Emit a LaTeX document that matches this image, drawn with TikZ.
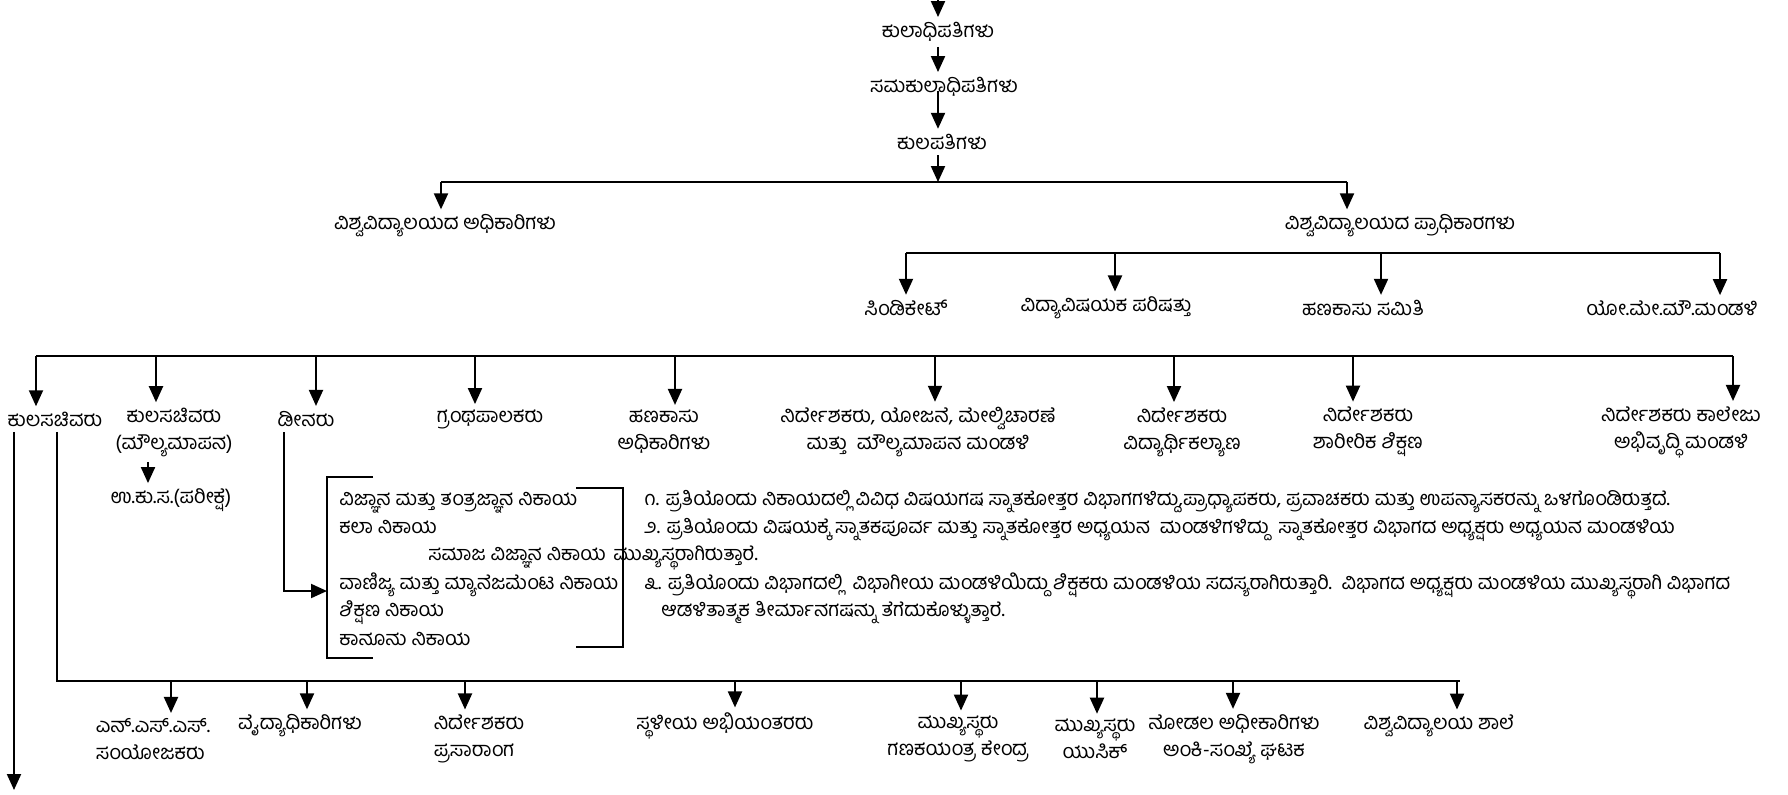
\documentclass[tikz,border=0pt]{standalone}
\usepackage{fontspec}
\newfontfamily\kn[Script=Kannada]{Hind Mysuru}
\usetikzlibrary{arrows.meta}
\begin{document}
\begin{tikzpicture}[x=0.5pt,y=-0.5pt,
  lbl/.style={font=\kn\fontsize{10.1}{13.5}\selectfont, inner sep=2.5pt, align=center},
  txt/.style={font=\kn\fontsize{10}{13.5}\selectfont, inner sep=0pt, anchor=base west},
  arr/.style={line width=1pt,-{Triangle[width=7pt,length=8pt]}},
  ln/.style={line width=1pt}]
\useasboundingbox[fill=white] (0,0) rectangle (1788,794);

% ---- top chain
\node[lbl] (n1) at (938,32) {ಕುಲಾಧಿಪತಿಗಳು};
\node[lbl] (n2) at (944,87) {ಸಮಕುಲಾಧಿಪತಿಗಳು};
\node[lbl] (n3) at (942,142) {ಕುಲಪತಿಗಳು};
\coordinate (top) at (938,0);
\coordinate (j1) at (938,182);
\draw[arr] (top) -- (top |- n1.north);
\draw[arr] (top |- n1.south) -- (top |- n2.north);
\draw[arr] ([yshift=-2pt]top |- n2.center) -- (top |- n3.north);
\draw[arr] (top |- n3.south) -- (j1);

% ---- level 2
\coordinate (bar1L) at (441,182);
\coordinate (bar1R) at (1347,182);
\draw[ln] (bar1L) -- (bar1R);
\node[lbl] (n4) at (445,226) {ವಿಶ್ವವಿದ್ಯಾಲಯದ ಅಧಿಕಾರಿಗಳು};
\node[lbl] (n5) at (1400,226) {ವಿಶ್ವವಿದ್ಯಾಲಯದ ಪ್ರಾಧಿಕಾರಗಳು};
\draw[arr] (bar1L) -- (bar1L |- n4.north);
\draw[arr] (bar1R) -- (bar1R |- n5.north);

% ---- authorities
\coordinate (bar2a) at (906,253);
\coordinate (bar2b) at (1115,253);
\coordinate (bar2c) at (1381,253);
\coordinate (bar2d) at (1720,253);
\draw[ln] (bar2a) -- (bar2d);
\node[lbl] (n6) at (906,308) {ಸಿಂಡಿಕೇಟ್};
\node[lbl] (n7) at (1106,308) {ವಿದ್ಯಾವಿಷಯಕ ಪರಿಷತ್ತು};
\node[lbl] (n8) at (1363,308) {ಹಣಕಾಸು ಸಮಿತಿ};
\node[lbl] (n9) at (1672,308) {ಯೋ.ಮೇ.ಮೌ.ಮಂಡಳಿ};
\draw[arr] (bar2a) -- (bar2a |- n6.north);
\draw[arr] (bar2b) -- (bar2b |- n7.north);
\draw[arr] (bar2c) -- (bar2c |- n8.north);
\draw[arr] (bar2d) -- (bar2d |- n9.north);

% ---- officers
\coordinate (o1) at (36,356);
\coordinate (o2) at (156,356);
\coordinate (o3) at (316,356);
\coordinate (o4) at (475,356);
\coordinate (o5) at (675,356);
\coordinate (o6) at (935,356);
\coordinate (o7) at (1174,356);
\coordinate (o8) at (1353,356);
\coordinate (o9) at (1733,356);
\draw[ln] (o1) -- (o9);
\node[lbl] (r1) at (55,419) {ಕುಲಸಚಿವರು};
\node[lbl] (r2) at (174,432) {ಕುಲಸಚಿವರು\\(ಮೌಲ್ಯಮಾಪನ)};
\node[lbl] (r3) at (306,419) {ಡೀನರು};
\node[lbl] (r4) at (490,419) {ಗ್ರಂಥಪಾಲಕರು};
\node[lbl] (r5) at (664,432) {ಹಣಕಾಸು\\ಅಧಿಕಾರಿಗಳು};
\node[lbl] (r6) at (918,432) {ನಿರ್ದೇಶಕರು, ಯೋಜನೆ, ಮೇಲ್ವಿಚಾರಣೆ\\ಮತ್ತು\ \ ಮೌಲ್ಯಮಾಪನ ಮಂಡಳಿ};
\node[lbl] (r7) at (1182,432) {ನಿರ್ದೇಶಕರು\\ವಿದ್ಯಾರ್ಥಿಕಲ್ಯಾಣ};
\node[lbl] (r8) at (1368,432) {ನಿರ್ದೇಶಕರು\\ಶಾರೀರಿಕ ಶಿಕ್ಷಣ};
\node[lbl] (r9) at (1681,432) {ನಿರ್ದೇಶಕರು ಕಾಲೇಜು\\ಅಭಿವೃದ್ಧಿ ಮಂಡಳಿ};
\draw[arr] (o1) -- (o1 |- r1.north);
\draw[arr] (o2) -- (o2 |- r2.north);
\draw[arr] (o3) -- (o3 |- r3.north);
\draw[arr] (o4) -- (o4 |- r4.north);
\draw[arr] (o5) -- (o5 |- r5.north);
\draw[arr] (o6) -- (o6 |- r6.north);
\draw[arr] (o7) -- (o7 |- r7.north);
\draw[arr] (o8) -- (o8 |- r8.north);
\draw[arr] (o9) -- (o9 |- r9.north);

\node[lbl] (r2b) at (171,500) {ಉ.ಕು.ಸ.(ಪರೀಕ್ಷೆ)};
\coordinate (a2x) at (148,0);
\draw[arr] (a2x |- r2.south) -- (a2x |- r2b.north);

% ---- registrar lines
\coordinate (endL) at (14,790);
\draw[arr] (r1.south -| endL) -- (endL);
\coordinate (s0) at (57,681);
\coordinate (s1) at (171,681);
\coordinate (s2) at (307,681);
\coordinate (s3) at (465,681);
\coordinate (s4) at (735,681);
\coordinate (s5) at (961,681);
\coordinate (s6) at (1097,681);
\coordinate (s7) at (1233,681);
\coordinate (s8) at (1457,681);
\draw[ln] (r1.south -| s0) -- (s0) -- (1460,681);
\node[lbl,align=left] (b1) at (153,739) {ಎನ್.ಎಸ್.ಎಸ್.\\ಸಂಯೋಜಕರು};
\node[lbl] (b2) at (300,726) {ವೈದ್ಯಾಧಿಕಾರಿಗಳು};
\node[lbl,align=left] (b3) at (479,739) {ನಿರ್ದೇಶಕರು\\ಪ್ರಸಾರಾಂಗ};
\node[lbl] (b4) at (725,726) {ಸ್ಥಳೀಯ ಅಭಿಯಂತರರು};
\node[lbl] (b5) at (958,739) {ಮುಖ್ಯಸ್ಥರು\\ಗಣಕಯಂತ್ರ ಕೇಂದ್ರ};
\node[lbl] (b6) at (1095,739) {ಮುಖ್ಯಸ್ಥರು\\ಯುಸಿಕ್};
\node[lbl] (b7) at (1234,739) {ನೋಡಲ ಅಧೀಕಾರಿಗಳು\\ಅಂಕಿ-ಸಂಖ್ಯೆ ಘಟಕ};
\node[lbl] (b8) at (1439,726) {ವಿಶ್ವವಿದ್ಯಾಲಯ ಶಾಲೆ};
\draw[arr] (s1) -- (s1 |- b1.north);
\draw[arr] (s2) -- (s2 |- b2.north);
\draw[arr] (s3) -- (s3 |- b3.north);
\draw[arr] (s4) -- (s4 |- b4.north);
\draw[arr] (s5) -- (s5 |- b5.north);
\draw[arr] (s6) -- (s6 |- b6.north);
\draw[arr] (s7) -- (s7 |- b7.north);
\draw[arr] (s8) -- (s8 |- b8.north);

% ---- faculties
\coordinate (d1) at (284,591);
\coordinate (fin) at (327,591);
\draw[arr] (r3.south -| d1) -- (d1) -- (fin);
\draw[ln] (373,477) -- (327,477) -- (327,658) -- (373,658);
\draw[ln] (576,488) -- (623,488) -- (623,647) -- (576,647);
\node[txt] (f1) at (339,505) {ವಿಜ್ಞಾನ ಮತ್ತು ತಂತ್ರಜ್ಞಾನ ನಿಕಾಯ};
\node[txt] (f2) at (339,533) {ಕಲಾ ನಿಕಾಯ};
\node[txt] (f3) at (428,560) {ಸಮಾಜ ವಿಜ್ಞಾನ ನಿಕಾಯ};
\node[txt] (f4) at (339,589) {ವಾಣಿಜ್ಯ ಮತ್ತು ಮ್ಯಾನೆಜಮೆಂಟ ನಿಕಾಯ};
\node[txt] (f5) at (339,616) {ಶಿಕ್ಷಣ ನಿಕಾಯ};
\node[txt] (f6) at (339,645) {ಕಾನೂನು ನಿಕಾಯ};

% ---- notes
\node[txt] (t1) at (644,505) {೧. ಪ್ರತಿಯೊಂದು ನಿಕಾಯದಲ್ಲಿ ವಿವಿಧ ವಿಷಯಗಷ ಸ್ನಾತಕೋತ್ತರ ವಿಭಾಗಗಳಿದ್ದು,ಪ್ರಾಧ್ಯಾಪಕರು, ಪ್ರವಾಚಕರು ಮತ್ತು ಉಪನ್ಯಾಸಕರನ್ನು ಒಳಗೊಂಡಿರುತ್ತದೆ.};
\node[txt] (t2) at (644,533) {೨. ಪ್ರತಿಯೊಂದು ವಿಷಯಕ್ಕೆ ಸ್ನಾತಕಪೂರ್ವ ಮತ್ತು ಸ್ನಾತಕೋತ್ತರ ಅಧ್ಯಯನ\ \ ಮಂಡಳಿಗಳಿದ್ದು\ \ ಸ್ನಾತಕೋತ್ತರ ವಿಭಾಗದ ಅಧ್ಯಕ್ಷರು ಅಧ್ಯಯನ ಮಂಡಳಿಯ};
\node[txt] (t2b) at (613,560) {ಮುಖ್ಯಸ್ಥರಾಗಿರುತ್ತಾರೆ.};
\node[txt] (t3) at (644,589) {೩. ಪ್ರತಿಯೊಂದು ವಿಭಾಗದಲ್ಲಿ\ \ ವಿಭಾಗೀಯ ಮಂಡಳಿಯಿದ್ದು ಶಿಕ್ಷಕರು ಮಂಡಳಿಯ ಸದಸ್ಯರಾಗಿರುತ್ತಾರಿ.\ \ ವಿಭಾಗದ ಅಧ್ಯಕ್ಷರು ಮಂಡಳಿಯ ಮುಖ್ಯಸ್ಥರಾಗಿ ವಿಭಾಗದ};
\node[txt] (t3b) at (661,616) {ಆಡಳಿತಾತ್ಮಕ ತೀರ್ಮಾನಗಷನ್ನು ತೆಗೆದುಕೊಳ್ಳುತ್ತಾರೆ.};
\end{tikzpicture}
\end{document}
